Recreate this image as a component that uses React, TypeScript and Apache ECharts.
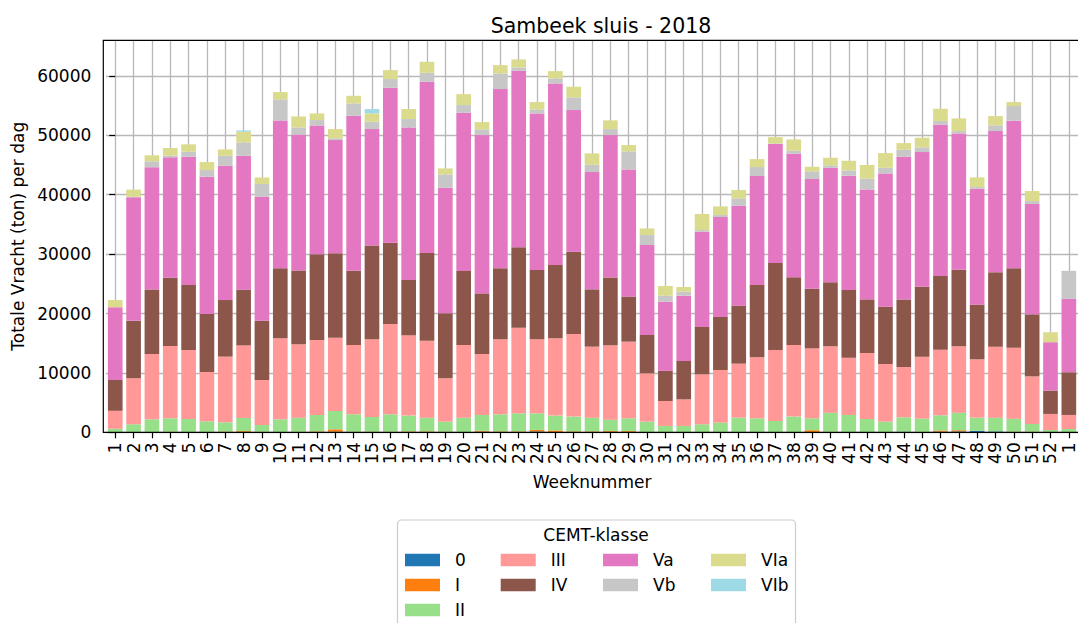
import React, { useEffect, useRef } from "react";
import * as echarts from "echarts";

const weekLabels = [
  "1","2","3","4","5","6","7","8","9","10","11","12","13","14","15","16","17","18","19","20",
  "21","22","23","24","25","26","27","28","29","30","31","32","33","34","35","36","37","38","39","40",
  "41","42","43","44","45","46","47","48","49","50","51","52","1",
];

const seriesNames = ["0", "I", "II", "III", "IV", "Va", "Vb", "VIa", "VIb"];
const seriesColors = ["#1f77b4", "#ff7f0e", "#98df8a", "#ff9896", "#8c564b", "#e377c2", "#c7c7c7", "#dbdb8d", "#9edae5"];

const class0 = [
  0,0,0,0,0,0,0,0,0,0, 0,0,100,0,0,0,0,0,0,0, 100,0,0,150,0,0,0,0,0,0,
  0,0,0,0,0,0,0,0,0,0, 0,0,0,100,0,100,150,250,150,0, 0,0,0,
];
const classI = [
  0,0,0,100,0,80,120,200,80,60, 80,150,400,100,100,100,150,150,100,50, 150,150,150,250,300,150,150,200,200,50,
  0,0,0,0,50,0,50,0,350,100, 0,50,50,0,80,200,200,0,0,100, 100,0,0,
];
const classII = [
  600,1350,2190,2260,2250,1770,1560,2210,1150,2130, 2390,2770,3090,2930,2480,2930,2660,2320,1700,2420,
  2670,2880,3050,2800,2510,2490,2320,1930,2160,1750, 1070,1070,1350,1630,2420,2360,1860,2640,2010,3210,
  2920,2200,1750,2430,2220,2560,2960,2220,2320,2200, 1300,390,560,
];
const classIII = [
  3020,7750,11010,12190,11610,8300,11060,12230,7580,13630, 12340,12620,12340,11670,13070,15200,13520,12960,7290,12230,
  10260,12620,14420,12450,13010,13910,11950,12510,12900,8130, 4200,4480,8410,8860,9090,10260,11950,12060,11780,11160,
  9650,11100,9700,8470,10440,11050,11160,9820,11950,11950, 8020,2700,2360,
];
const classIV = [
  5190,9670,10850,11460,10950,9770,9530,9370,9980,11780, 12450,14420,14200,12510,15820,13690,9310,14760,10940,12450,
  10210,11950,13520,11670,12340,13860,9650,11430,7580,6450, 5110,6460,7970,8920,9760,12180,14640,11390,10040,10780,
  11390,9030,9650,11380,11780,12400,12910,9200,12510,13350, 10440,3930,7190,
];
const classVa = [
  12240,20790,20570,20280,21590,23110,22610,22550,20880,24910, 22890,21710,19070,26090,19580,26090,25690,28830,21150,26650,
  26650,30180,29730,26370,30580,23840,19750,23970,21420,15150, 11610,10990,16040,16830,16830,18340,20030,20810,18460,19290,
  19240,18520,22440,24020,22660,25470,22940,19520,23780,24860, 18570,8150,12360,
];
const classVb = [
  0,100,1010,290,840,1120,1680,2250,2130,3540, 1180,900,300,2070,1240,1460,1410,1510,2240,1290,
  960,2640,560,670,840,2130,1230,1010,3030,1680, 1010,670,280,340,1230,1520,100,500,1290,400,
  900,1790,950,1180,790,620,390,280,960,2470, 500,0,4720,
];
const classVIa = [
  1230,1200,1010,1290,1240,1350,1070,1790,1120,1230, 1850,1120,1550,1290,1400,1510,1680,1850,1010,1850,
  1230,1400,1350,1240,1230,1800,1910,1470,1070,1120, 1630,790,2700,1460,1410,1340,1070,1910,780,1290,
  1620,2310,2470,1120,1630,2080,2140,1630,1570,670, 1690,1680,0,
];
const classVIb = [
  0,0,0,0,0,0,0,230,0,0, 0,0,0,0,730,0,0,0,0,0,
  0,0,0,0,0,0,0,0,0,0, 0,0,0,0,0,0,0,0,0,0,
  0,0,0,0,0,0,0,0,0,0, 0,0,0,
];

const seriesValues = [class0, classI, classII, classIII, classIV, classVa, classVb, classVIa, classVIb];

const yTicks = [0, 10000, 20000, 30000, 40000, 50000, 60000];

const legendColumns = [
  ["0", "I", "II"],
  ["III", "IV"],
  ["Va", "Vb"],
  ["VIa", "VIb"],
];

const FONT = "DejaVu Sans";

export default function App() {
  const ref = useRef<HTMLDivElement>(null);

  useEffect(() => {
    document.body.style.margin = "0";
    if (!ref.current) return;
    const chart = echarts.init(ref.current, null, { renderer: "svg" });

    const tickIdx = weekLabels.map((_, i) => i);
    const legendLefts = [405, 500.7, 603, 711];
    const slot = 18.49;
    const frameLeft = 103.3;
    const gridLeft = frameLeft + 0.15 * slot;
    const gridWidth = weekLabels.length * slot;

    const option: any = {
      animation: false,
      backgroundColor: "#ffffff",
      textStyle: { fontFamily: FONT, color: "#000" },
      title: {
        text: "Sambeek sluis - 2018",
        left: 596,
        top: 10,
        textAlign: "center",
        textStyle: { fontFamily: FONT, fontSize: 20.5, fontWeight: "normal", color: "#000" },
      },
      grid: {
        left: gridLeft,
        top: 40.3,
        width: gridWidth,
        height: 392,
        show: false,
      },
      xAxis: [
        {
          type: "category",
          data: weekLabels,
          show: false,
        },
        {
          type: "value",
          position: "bottom",
          min: -0.5,
          max: weekLabels.length - 0.5,
          name: "Weeknummer",
          nameLocation: "middle",
          nameGap: 41,
          nameTextStyle: { fontFamily: FONT, fontSize: 17, color: "#000" },
          axisLine: { show: false },
          axisTick: { show: true, length: 6, customValues: tickIdx, lineStyle: { color: "#000", width: 1.2 } },
          axisLabel: {
            customValues: tickIdx,
            rotate: 90,
            margin: 10,
            fontFamily: FONT,
            fontSize: 17,
            color: "#000",
            formatter: (v: number) => weekLabels[Math.round(v)] ?? "",
          },
          splitLine: { show: true, lineStyle: { color: "#b8b8b8", width: 1.3 } },
        },
      ],
      yAxis: {
        type: "value",
        min: 0,
        max: 66000,
        interval: 10000,
        offset: gridLeft - frameLeft,
        name: "Totale Vracht (ton) per dag",
        nameLocation: "middle",
        nameRotate: 90,
        nameGap: 74,
        nameTextStyle: { fontFamily: FONT, fontSize: 17, color: "#000" },
        axisLine: { show: false },
        axisTick: { show: true, length: 6, customValues: yTicks, lineStyle: { color: "#000", width: 1.2 } },
        axisLabel: {
          customValues: yTicks,
          margin: 12,
          fontFamily: FONT,
          fontSize: 17,
          color: "#000",
          formatter: (v: number) => String(v),
        },
        splitLine: { show: true, lineStyle: { color: "#b8b8b8", width: 1.3 } },
      },
      legend: legendColumns.map((col, ci) => ({
        data: col,
        orient: "vertical",
        left: legendLefts[ci],
        top: 551,
        padding: 0,
        itemWidth: 35,
        itemHeight: 12.7,
        itemGap: 7,
        icon: "rect",
        selectedMode: false,
        textStyle: { fontFamily: FONT, fontSize: 17, color: "#000", lineHeight: 18, padding: [0, 0, 0, 10] },
      })),
      graphic: [
        {
          type: "rect",
          z: 100,
          silent: true,
          shape: { x: frameLeft, y: 40.3, width: 985.5, height: 392 },
          style: { fill: "none", stroke: "#000", lineWidth: 1.2 },
        },
        {
          type: "rect",
          z: -1,
          shape: { x: 397.5, y: 520, width: 398, height: 130, r: 4 },
          style: { fill: "rgba(255,255,255,0.8)", stroke: "#cccccc", lineWidth: 1.2 },
        },
        {
          type: "text",
          x: 596,
          y: 535,
          style: {
            text: "CEMT-klasse",
            fontFamily: FONT,
            fontSize: 17,
            fill: "#000",
            textAlign: "center",
            textVerticalAlign: "middle",
          },
        },
      ],
      series: seriesNames.map((name, si) => ({
        name,
        type: "bar",
        stack: "total",
        xAxisIndex: 0,
        barWidth: "80%",
        itemStyle: { color: seriesColors[si] },
        data: seriesValues[si],
      })),
    };

    chart.setOption(option);
    return () => chart.dispose();
  }, []);

  return (
    <div
      ref={ref}
      style={{ position: "absolute", left: 0, top: 0, width: 1078, height: 623 }}
    />
  );
}
